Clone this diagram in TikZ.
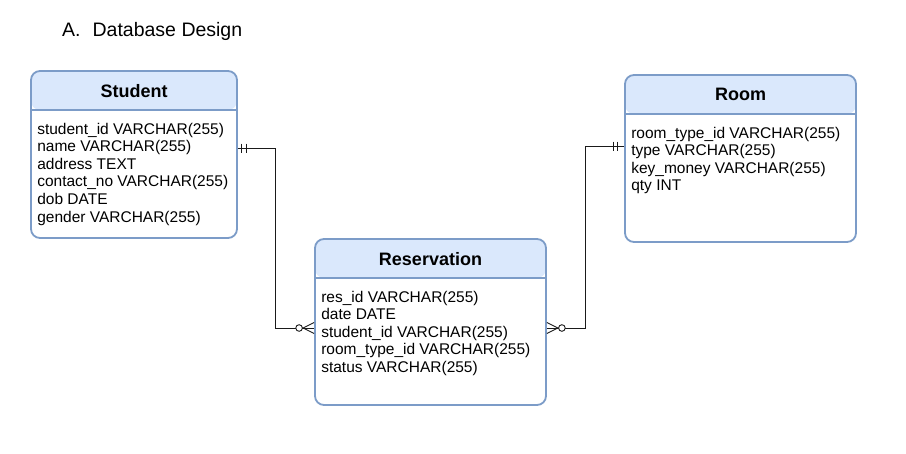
\documentclass[tikz,border=0pt]{standalone}
\usepackage{fontspec}
\setmainfont{Liberation Sans}
\usetikzlibrary{positioning}

\definecolor{headblue}{HTML}{DAE8FC}
\definecolor{edgeblue}{HTML}{7C9CC8}
\definecolor{linkgray}{HTML}{1A1A1A}

\tikzset{
  entity/.style={draw=edgeblue, line width=1.8pt, rounded corners=9pt, fill=white, inner sep=0pt,
    path picture={
      \fill[headblue] (path picture bounding box.north west) rectangle ([yshift=-39pt]path picture bounding box.north east);
      \draw[edgeblue, line width=1.2pt] ([yshift=-39pt]path picture bounding box.north west) -- ([yshift=-39pt]path picture bounding box.north east);
    }},
  headtext/.style={font=\fontsize{18}{20}\selectfont\bfseries, inner sep=0pt},
  fieldtext/.style={font=\fontsize{15.5}{17.6}\selectfont, align=left, inner sep=0pt, anchor=north west},
  link/.style={draw=linkgray, line width=0.9pt},
  optcircle/.style={draw=linkgray, line width=0.9pt, fill=white}
}

\begin{document}
\begin{tikzpicture}[x=1pt, y=-1pt]
\fill[white] (0, 0) rectangle (906, 453);
\useasboundingbox (0, 0) rectangle (906, 453);

\node[font=\fontsize{19.5}{22}\selectfont, anchor=west, inner sep=0pt] (section_title) at (62, 31.5)
    {A.\hspace{12pt}Database Design};

% entities
\node[entity, minimum width=206pt, minimum height=167pt] (student) at (134, 154.5) {};
\node[entity, minimum width=231pt, minimum height=166pt] (reservation) at (430.5, 322) {};
\node[entity, minimum width=231pt, minimum height=167pt] (room) at (740.5, 158.5) {};

\node[headtext] (student_head) at ([yshift=-20.5pt]student.north) {Student};
\node[headtext] (reservation_head) at ([yshift=-20.5pt]reservation.north) {Reservation};
\node[headtext] (room_head) at ([yshift=-20.5pt]room.north) {Room};

\node[fieldtext] (student_fields) at ([xshift=7pt, yshift=-52.5pt]student.north west)
    {student\_id VARCHAR(255)\\name VARCHAR(255)\\address TEXT\\contact\_no VARCHAR(255)\\dob DATE\\gender VARCHAR(255)};
\node[fieldtext] (reservation_fields) at ([xshift=7pt, yshift=-52.5pt]reservation.north west)
    {res\_id VARCHAR(255)\\date DATE\\student\_id VARCHAR(255)\\room\_type\_id VARCHAR(255)\\status VARCHAR(255)};
\node[fieldtext] (room_fields) at ([xshift=7pt, yshift=-52.5pt]room.north west)
    {room\_type\_id VARCHAR(255)\\type VARCHAR(255)\\key\_money VARCHAR(255)\\qty INT};

% relationships
\coordinate (student_end) at ([yshift=6.5pt]student.east);
\coordinate (room_end) at ([yshift=12.5pt]room.west);
\coordinate (res_left_end) at ([yshift=-6pt]reservation.west);
\coordinate (res_right_end) at ([yshift=-6pt]reservation.east);

\draw[link] (student_end) -- ++(38, 0) |- (res_left_end);
\draw[link] (room_end) -- ++(-39, 0) |- (res_right_end);

% one and only one
\draw[link] (student_end) ++(4, -4.5) -- ++(0, 9);
\draw[link] (student_end) ++(8.5, -4.5) -- ++(0, 9);
\draw[link] (room_end) ++(-11, -4.5) -- ++(0, 9);
\draw[link] (room_end) ++(-6.5, -4.5) -- ++(0, 9);

% zero or many
\draw[link] (res_left_end) ++(0, -5.5) -- ++(-11, 5.5) -- ++(11, 5.5);
\draw[optcircle] (res_left_end) ++(-15, 0) circle[radius=3.3];
\draw[link] (res_right_end) ++(0, -5.5) -- ++(11, 5.5) -- ++(-11, 5.5);
\draw[optcircle] (res_right_end) ++(15, 0) circle[radius=3.3];
\end{tikzpicture}
\end{document}
